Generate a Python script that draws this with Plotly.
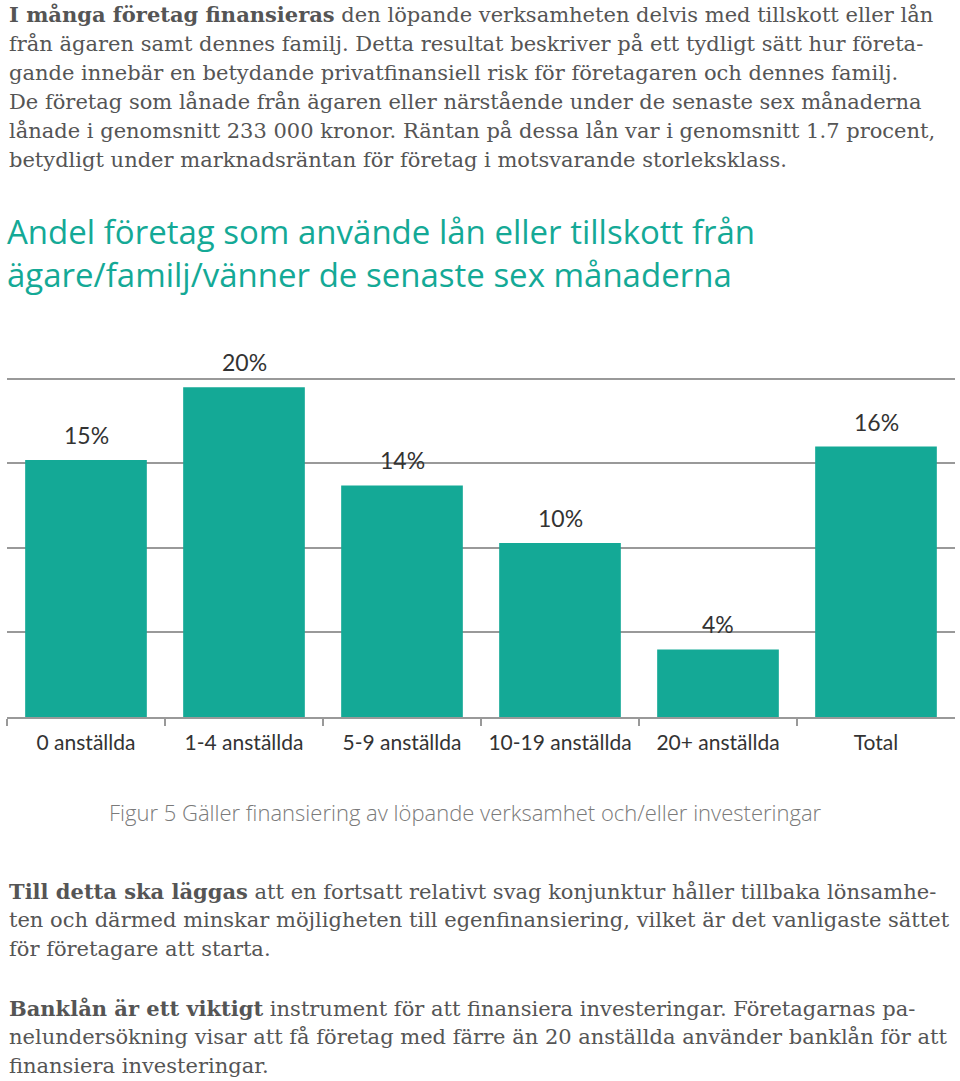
import plotly.graph_objects as go

W, H = 960, 1081

categories = ["0 anställda", "1-4 anställda", "5-9 anställda", "10-19 anställda", "20+ anställda", "Total"]
values = [15.2, 19.5, 13.7, 10.3, 4.0, 16.0]

title_lines = [
    "Andel företag som använde lån eller tillskott från",
    "ägare/familj/vänner de senaste sex månaderna",
]
caption = "Figur 5 Gäller finansiering av löpande verksamhet och/eller investeringar"

top_lines = [
    "<b>I många företag finansieras</b> den löpande verksamheten delvis med tillskott eller lån",
    "från ägaren samt dennes familj. Detta resultat beskriver på ett tydligt sätt hur företa-",
    "gande innebär en betydande privatfinansiell risk för företagaren och dennes familj.",
    "De företag som lånade från ägaren eller närstående under de senaste sex månaderna",
    "lånade i genomsnitt 233 000 kronor. Räntan på dessa lån var i genomsnitt 1.7 procent,",
    "betydligt under marknadsräntan för företag i motsvarande storleksklass.",
]
bottom_lines_1 = [
    "<b>Till detta ska läggas</b> att en fortsatt relativt svag konjunktur håller tillbaka lönsamhe-",
    "ten och därmed minskar möjligheten till egenfinansiering, vilket är det vanligaste sättet",
    "för företagare att starta.",
]
bottom_lines_2 = [
    "<b>Banklån är ett viktigt</b> instrument för att finansiera investeringar. Företagarnas pa-",
    "nelundersökning visar att få företag med färre än 20 anställda använder banklån för att",
    "finansiera investeringar.",
]

TEAL = "#14a996"
SERIF = "DejaVu Serif"
SANS = "Lato"
TITLE_FONT = "Open Sans"

fig = go.Figure()
fig.add_trace(go.Bar(
    x=categories, y=values,
    marker=dict(color=TEAL, line=dict(width=0)),
    hoverinfo="skip",
))

# plot area in pixels
x0, x1 = 7, 955
y_bottom, y_top = 717, 362


def px(x):
    return x / W


def py(y):
    return 1 - y / H


annotations = []
line_h = 29
body_font = dict(family=SERIF, size=21, color="#555555")
for i, t in enumerate(top_lines):
    annotations.append(dict(text=t, x=px(7), y=py(15 + i * line_h), xanchor="left", yanchor="middle",
                            font=body_font))
for i, t in enumerate(bottom_lines_1):
    annotations.append(dict(text=t, x=px(7), y=py(891 + i * line_h), xanchor="left", yanchor="middle",
                            font=body_font))
for i, t in enumerate(bottom_lines_2):
    annotations.append(dict(text=t, x=px(7), y=py(1008 + i * line_h), xanchor="left", yanchor="middle",
                            font=body_font))
annotations.append(dict(text="<br>".join(title_lines), x=px(5), y=py(253), xanchor="left", yanchor="middle",
                        align="left", font=dict(family=TITLE_FONT, size=33, color=TEAL)))
annotations.append(dict(text=caption, x=px(465), y=py(812), xanchor="center", yanchor="middle",
                        font=dict(family=TITLE_FONT, size=22, color="#7a7a7a", weight=300)))
for a in annotations:
    a.update(xref="paper", yref="paper", showarrow=False)

# value labels from data
for c, v in zip(categories, values):
    annotations.append(dict(x=c, y=v, xref="x", yref="y", text=f"{v:.0f}%", showarrow=False,
                            yanchor="middle", yshift=25,
                            font=dict(family=SANS, size=23, color="#333333")))

fig.update_layout(
    width=W, height=H,
    margin=dict(l=0, r=0, t=0, b=0),
    paper_bgcolor="white", plot_bgcolor="white",
    showlegend=False,
    bargap=0.23,
    annotations=annotations,
    xaxis=dict(
        domain=[px(x0), px(x1)],
        tickson="boundaries", ticks="outside", ticklen=7, tickcolor="#999999", tickwidth=2,
        showline=True, linecolor="#999999", linewidth=2,
        tickfont=dict(family=SANS, size=21, color="#333333"),
        ticklabelstandoff=6,
        showgrid=False,
    ),
    yaxis=dict(
        domain=[1 - y_bottom / H, 1 - y_top / H],
        range=[0, 21],
        tickvals=[5, 10, 15, 20],
        showticklabels=False,
        showgrid=True, gridcolor="#999999", gridwidth=2,
        zeroline=False, showline=False,
    ),
)

fig.write_html("out.html", config={"displayModeBar": False},
               post_script="document.body.style.margin='0';document.body.style.overflow='hidden';")
